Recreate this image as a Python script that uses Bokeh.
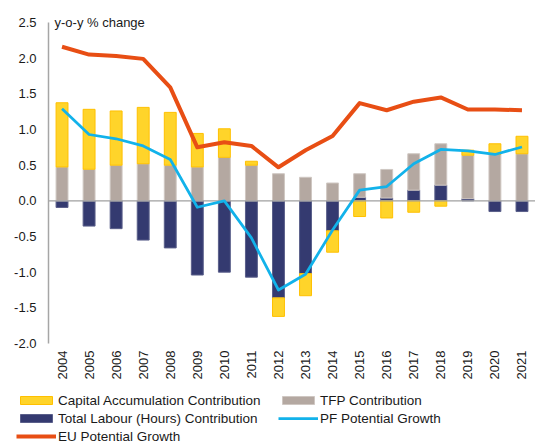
from bokeh.plotting import figure
from bokeh.models import (Range1d, Label, Legend, LegendItem, ColumnDataSource)
from bokeh.core.properties import value
from bokeh.embed import file_html
from bokeh.resources import INLINE
import math

years = [str(y) for y in range(2004, 2022)]
capital = [0.90, 0.84, 0.76, 0.79, 0.74, 0.47, 0.40, 0.055, -0.26, -0.31, -0.30,
           -0.22, -0.24, -0.16, -0.075, 0.07, 0.15, 0.245]
tfp = [0.475, 0.443, 0.50, 0.52, 0.50, 0.475, 0.61, 0.50, 0.38, 0.33, 0.25,
       0.33, 0.40, 0.51, 0.58, 0.61, 0.65, 0.66]
labour = [-0.093, -0.354, -0.39, -0.55, -0.66, -1.04, -1.0, -1.07, -1.36, -1.02, -0.42,
          0.05, 0.04, 0.15, 0.22, 0.03, -0.15, -0.15]
pf = [1.29, 0.93, 0.87, 0.77, 0.58, -0.09, 0.0, -0.52, -1.25, -1.03, -0.41,
      0.15, 0.20, 0.52, 0.72, 0.70, 0.65, 0.755]
eu = [2.16, 2.05, 2.03, 1.99, 1.59, 0.75, 0.82, 0.77, 0.47, 0.71, 0.91,
      1.37, 1.27, 1.39, 1.45, 1.28, 1.28, 1.27]
y_ticks = [-2.0, -1.5, -1.0, -0.5, 0.0, 0.5, 1.0, 1.5, 2.0, 2.5]
y_tick_labels = ["%.1f" % t for t in y_ticks]

FONT = "Liberation Sans"
TXT = "#1A1A1A"
AXIS = "#A6A6A6"

# page geometry (pixels): plot area inside the canvas
WIDTH, HEIGHT = 535, 445
PX_L, PX_R, PY_T, PY_B = 48, 535, 22, 343
n = len(years)
idx = list(range(n))
cat_px = (PX_R - PX_L) / n
y_lo, y_hi = min(y_ticks), max(y_ticks)
u_px = (PY_B - PY_T) / (y_hi - y_lo)
x_right = n - 0.5 + (WIDTH - PX_R) / cat_px

p = figure(width=WIDTH, height=HEIGHT, output_backend="svg", toolbar_location=None,
           x_range=Range1d(-0.5 - PX_L / cat_px, x_right),
           y_range=Range1d(y_lo - (HEIGHT - PY_B) / u_px, y_hi + PY_T / u_px),
           x_axis_location=None, y_axis_location=None,
           min_border=0, min_border_left=0, min_border_right=0,
           min_border_top=0, min_border_bottom=0)
p.outline_line_color = None
p.grid.grid_line_color = None

# stacking (positives and negatives stacked separately): labour, tfp, capital
pos = [0.0] * n
neg = [0.0] * n
stacks = {}
for name, vals in (("labour", labour), ("tfp", tfp), ("capital", capital)):
    bottoms, tops = [], []
    for i, v in enumerate(vals):
        if v >= 0:
            bottoms.append(pos[i]); tops.append(pos[i] + v); pos[i] += v
        else:
            bottoms.append(neg[i]); tops.append(neg[i] + v); neg[i] += v
    stacks[name] = ColumnDataSource(dict(x=idx, bottom=bottoms, top=tops))

W = 0.44
r_lab = p.vbar(x="x", bottom="bottom", top="top", width=W, source=stacks["labour"],
               fill_color="#343A70", line_color="#5A5F8A", line_width=1)
r_tfp = p.vbar(x="x", bottom="bottom", top="top", width=W, source=stacks["tfp"],
               fill_color="#B4A8A1", line_color="#CFC7C2", line_width=1)
r_cap = p.vbar(x="x", bottom="bottom", top="top", width=W, source=stacks["capital"],
               fill_color="#FFD42A", line_color="#FFC000", line_width=1)

# zero line and y axis line
p.segment(x0=[-0.5], y0=[0], x1=[x_right], y1=[0],
          line_color="#A0A0A0", line_width=1.2)
p.segment(x0=[-0.5], y0=[y_lo], x1=[-0.5], y1=[y_hi],
          line_color=AXIS, line_width=1.5)

r_eu = p.line(idx, eu, line_color="#E84E14", line_width=4, line_join="round")
r_pf = p.line(idx, pf, line_color="#12B2EA", line_width=2.75, line_join="round")

# y tick labels
p.text(x=[-0.5] * len(y_ticks), y=y_ticks, text=y_tick_labels, x_offset=-12,
       text_align="right", text_baseline="middle", text_font=value(FONT),
       text_font_size="13px", text_color=TXT)
# x tick labels (vertical, reading upward)
p.text(x=idx, y=[y_lo] * n, text=years, angle=math.pi / 2, y_offset=7,
       text_align="right", text_baseline="middle", text_font=value(FONT),
       text_font_size="13px", text_color=TXT)

p.add_layout(Label(x=-0.5, y=y_hi, x_offset=6, text="y-o-y % change", text_font=FONT,
                   text_font_size="13px", text_color=TXT,
                   text_baseline="middle", text_align="left"))

def mk_legend(items, loc):
    return Legend(items=items, location=loc, orientation="vertical",
                  label_text_font=FONT, label_text_font_size="13.5px",
                  label_text_color=TXT, glyph_width=40, glyph_height=10,
                  label_height=18, label_standoff=2, spacing=0, padding=0, margin=0,
                  border_line_color=None, background_fill_alpha=0)

leg1 = mk_legend([LegendItem(label="Capital Accumulation Contribution", renderers=[r_cap]),
                  LegendItem(label="Total Labour (Hours) Contribution", renderers=[r_lab]),
                  LegendItem(label="EU Potential Growth", renderers=[r_eu])], (16, 0))
leg2 = mk_legend([LegendItem(label="TFP Contribution", renderers=[r_tfp]),
                  LegendItem(label="PF Potential Growth", renderers=[r_pf])], (278, 18))
p.add_layout(leg1, "center")
p.add_layout(leg2, "center")

open("out.html", "w").write(file_html(p, INLINE))
